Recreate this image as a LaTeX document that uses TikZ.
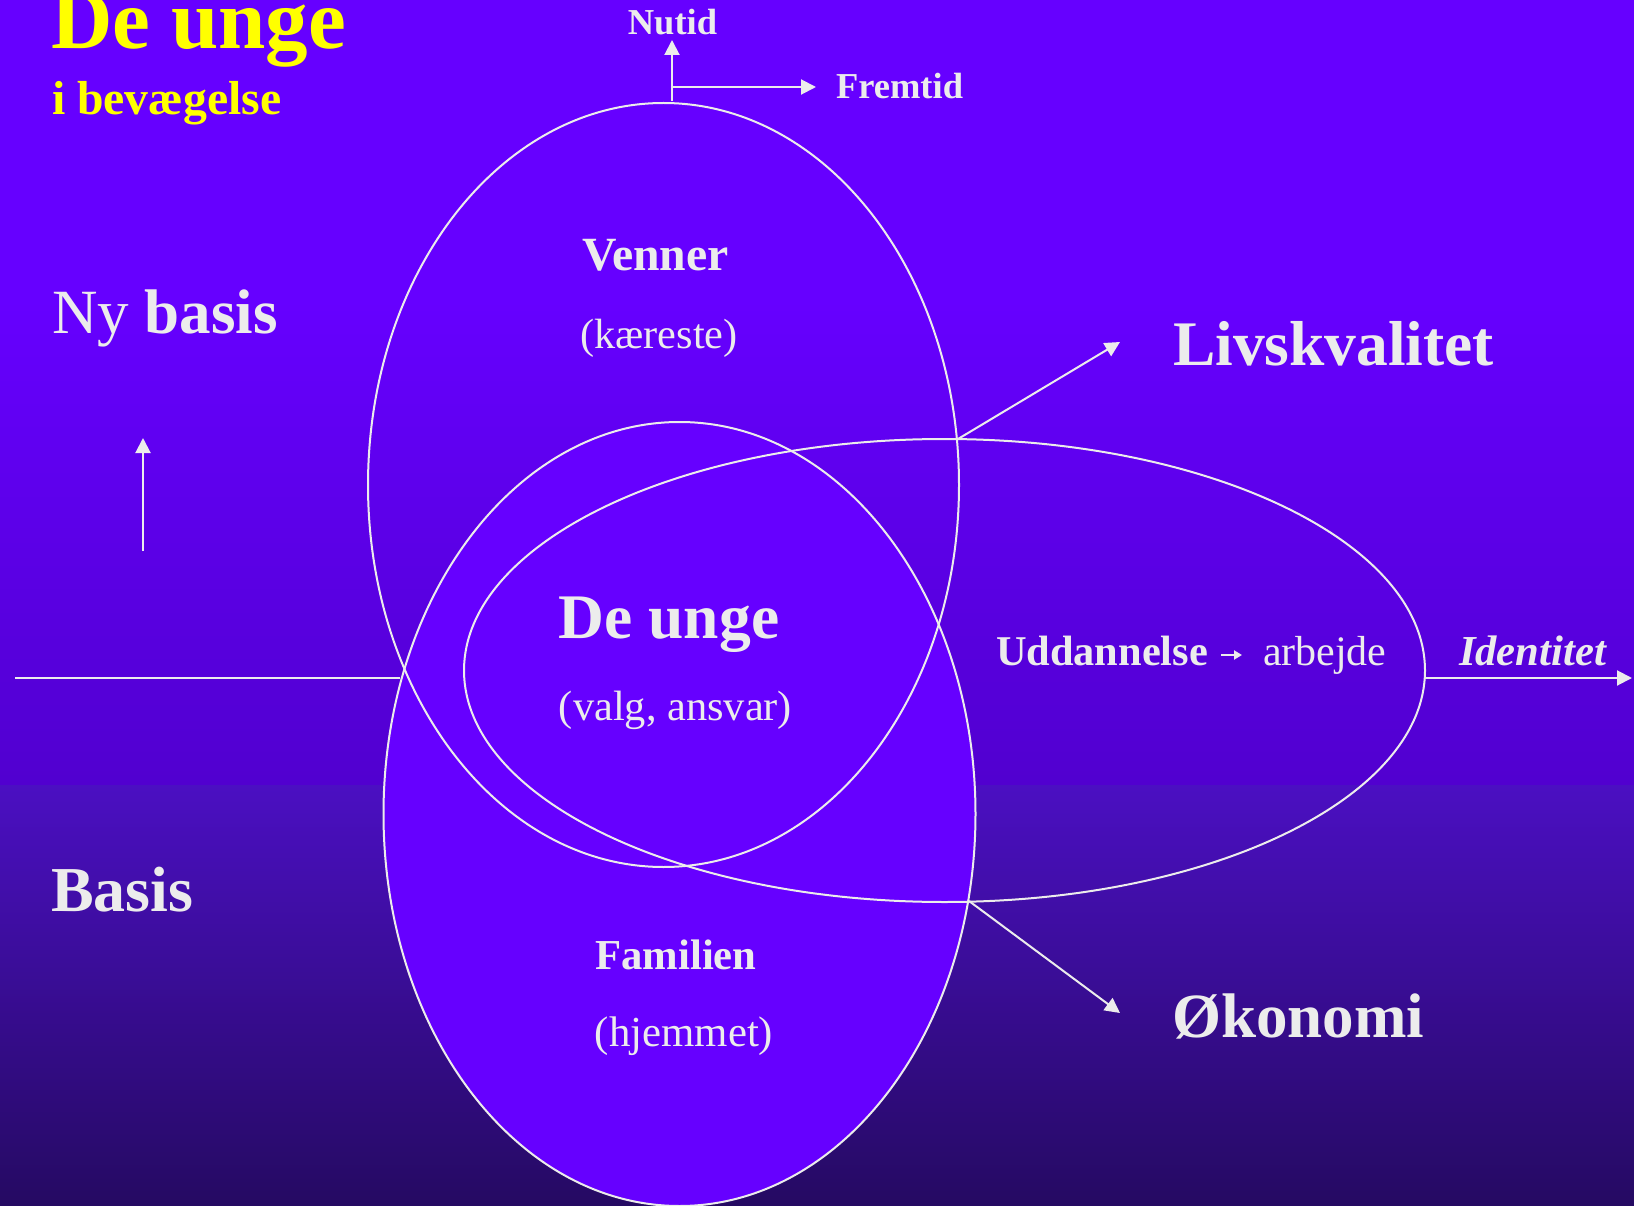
\documentclass[tikz,border=0pt]{standalone}
\usepackage{fontspec}
\setmainfont{Liberation Serif}
\usetikzlibrary{arrows.meta}
\definecolor{bgtop}{HTML}{6600FF}
\definecolor{bgmid}{HTML}{5100CF}
\definecolor{bglow}{HTML}{4B0FC2}
\definecolor{bgbot}{HTML}{250A62}
\definecolor{ink}{RGB}{236,236,236}
\definecolor{ttl}{HTML}{FFFF00}
\newcommand\fsz[1]{\fontsize{#1}{#1}\selectfont}
\tikzset{
  lbl/.style={text=ink, inner sep=0pt, outer sep=0pt},
  ring/.style={draw=ink, line width=2pt},
  arr/.style={draw=ink, line width=2pt, -{Triangle[length=15pt,width=15pt]}},
  smallarr/.style={draw=ink, line width=2.5pt, -{Triangle[length=8pt,width=9pt]}},
  plainline/.style={draw=ink, line width=2pt}
}
\begin{document}
\begin{tikzpicture}[x=1pt,y=-1pt]
\useasboundingbox (0,0) rectangle (1634,1206);
% background
\fill[bgtop] (0,0) rectangle (1634,300);
\shade[top color=bgtop, bottom color=bgmid] (0,299) rectangle (1634,786);
\shade[top color=bglow, bottom color=bgbot] (0,785) rectangle (1634,1206);
% filled bottom ellipse
\fill[bgtop] (679.5,814) ellipse [x radius=296, y radius=392];
% ellipse outlines
\draw[ring] (663.5,485) ellipse [x radius=295.5, y radius=382];
\draw[ring] (679.5,814) ellipse [x radius=296, y radius=392];
\draw[ring] (944.5,670.5) ellipse [x radius=480.5, y radius=231.5];
% coordinates
\coordinate (ntop) at (672,101);
\coordinate (ntip) at (672,40);
\coordinate (fstart) at (672,87);
\coordinate (ftip) at (816,87);
\coordinate (lstart) at (958,439);
\coordinate (ltip) at (1120,342);
\coordinate (ostart) at (969,901);
\coordinate (otip) at (1120,1013);
\coordinate (leftend) at (15,678);
\coordinate (leftmeet) at (400,678);
\coordinate (istart) at (1425,678);
\coordinate (itip) at (1632,678);
\coordinate (nbstart) at (143,551);
\coordinate (nbtip) at (143,438);
\coordinate (ustart) at (1221,655);
\coordinate (utip) at (1242,655);
% connectors
\draw[arr] (ntop) -- (ntip);
\draw[arr] (fstart) -- (ftip);
\draw[arr] (lstart) -- (ltip);
\draw[arr] (ostart) -- (otip);
\draw[plainline] (leftend) -- (leftmeet);
\draw[arr] (istart) -- (itip);
\draw[arr] (nbstart) -- (nbtip);
\draw[smallarr] (ustart) -- (utip);
% texts
\node[lbl, text=ttl, anchor=base west, font=\bfseries\fsz{85}] (title) at (51,49) {De unge};
\node[lbl, text=ttl, anchor=base west, font=\bfseries\fsz{47.7}] (sub) at (52,115) {i bevægelse};
\node[lbl, anchor=base west, font=\fsz{63}] (nybasis) at (52,334) {Ny \textbf{basis}};
\node[lbl, anchor=base west, font=\bfseries\fsz{64}] (basis) at (51,911) {Basis};
\node[lbl, anchor=base, font=\bfseries\fsz{36.5}] (nutid) at (672.5,35) {Nutid};
\node[lbl, anchor=base west, font=\bfseries\fsz{36.5}] (fremtid) at (836,99) {Fremtid};
\node[lbl, anchor=base, font=\bfseries\fsz{47.7}] (venner) at (655.5,271) {Venner};
\node[lbl, anchor=base, font=\fsz{42.3}] (kaer) at (659,349) {(kæreste)};
\node[lbl, anchor=base, font=\bfseries\fsz{63.5}] (deunge) at (669,638) {De unge};
\node[lbl, anchor=base, font=\fsz{42.4}] (valg) at (675.5,720) {(valg, ansvar)};
\node[lbl, anchor=base, font=\bfseries\fsz{42.7}] (familien) at (676,969) {Familien};
\node[lbl, anchor=base, font=\fsz{42.8}] (hjem) at (684,1046) {(hjemmet)};
\node[lbl, anchor=base west, font=\bfseries\fsz{63.5}] (livs) at (1173,366) {Livskvalitet};
\node[lbl, anchor=base west, font=\bfseries\fsz{63}] (okon) at (1172,1037) {Økonomi};
\node[lbl, anchor=base west, font=\bfseries\fsz{42.4}] (udd) at (996,665) {Uddannelse};
\node[lbl, anchor=base west, font=\fsz{42}] (arb) at (1263,665) {arbejde};
\node[lbl, anchor=base west, font=\bfseries\itshape\fsz{42.7}] (ident) at (1459,665) {Identitet};
\end{tikzpicture}
\end{document}
